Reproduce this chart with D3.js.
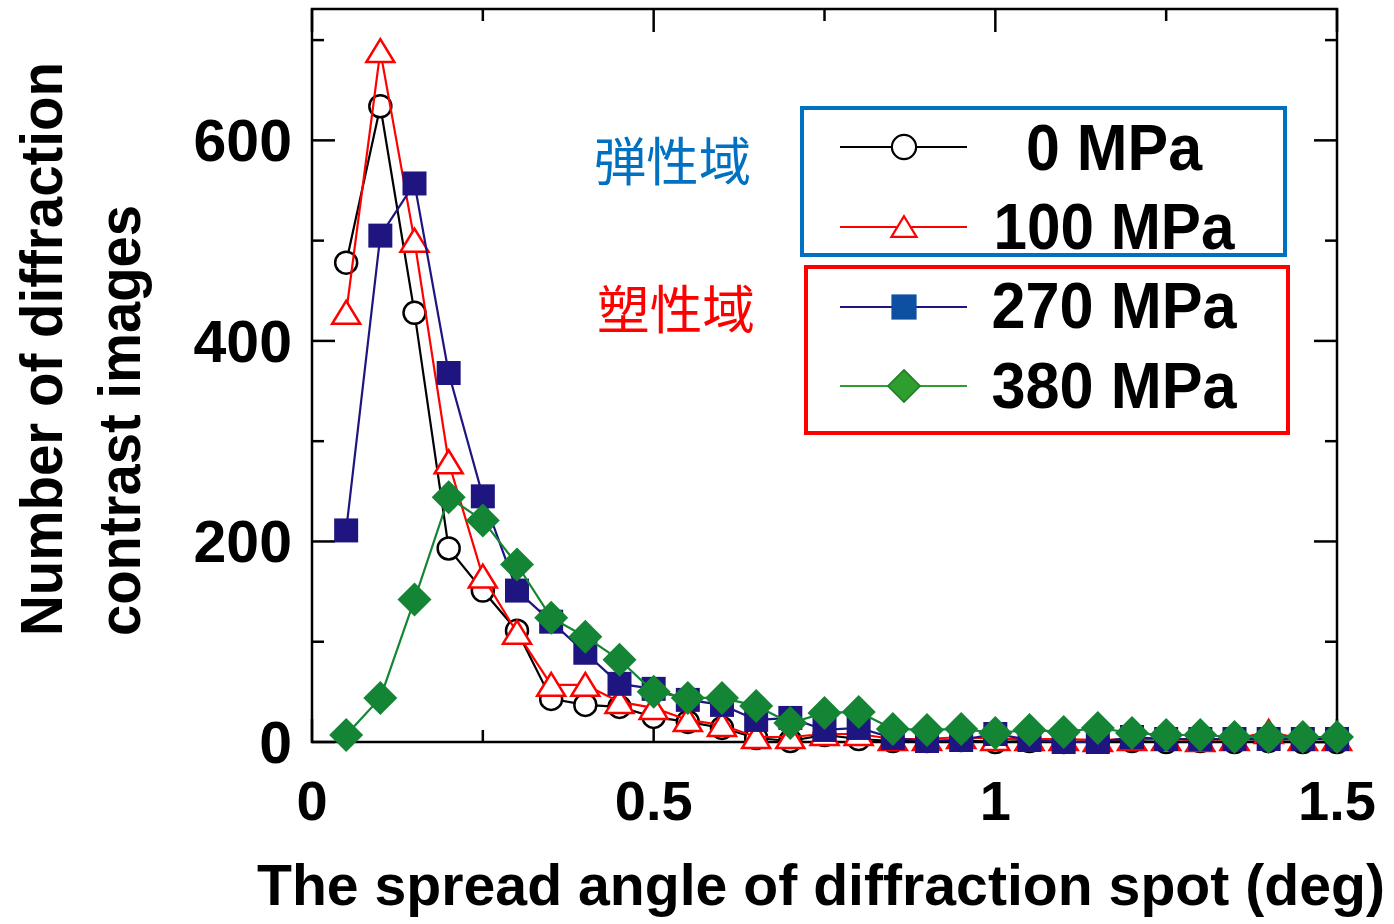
<!DOCTYPE html>
<html><head><meta charset="utf-8">
<script src="https://cdn.jsdelivr.net/npm/d3@7"></script>
<style>body{margin:0;background:#fff}svg{display:block}</style>
</head><body>
<script>
// ---- data ----
const angles = [0.05,0.10,0.15,0.20,0.25,0.30,0.35,0.40,0.45,0.50,0.55,0.60,0.65,0.70,0.75,0.80,0.85,0.90,0.95,1.00,1.05,1.10,1.15,1.20,1.25,1.30,1.35,1.40,1.45,1.50];
const mpa0   = [478,634,428,193,151,111,43,37,35,25,20,14,4,1,7,3,1,1,2,0,1,0,1,1,0,1,0,1,0,0];
const mpa100 = [428,689,500,279,165,109,57,57,40,34,22,17,5,5,8,8,3,3,5,3,3,3,2,3,3,2,3,10,3,3];
const mpa270 = [211,505,557,368,245,151,120,89,58,53,42,37,22,24,12,14,4,1,2,8,2,0,0,5,3,3,3,3,3,3];
const mpa380 = [7,44,142,244,221,177,124,105,82,50,44,44,36,19,29,30,13,12,13,9,12,10,14,9,7,7,5,5,5,5];
const seriesNames = ["0 MPa","100 MPa","270 MPa","380 MPa"];
const xTicks = [0,0.5,1,1.5];
const xTickLabels = ["0","0.5","1","1.5"];
const yTicks = [0,200,400,600];
const yTickLabels = ["0","200","400","600"];
const xTitle = "The spread angle of diffraction spot (deg)";
const yTitle1 = "Number of diffraction";
const yTitle2 = "contrast images";
const elasticLabel = "弾性域";
const plasticLabel = "塑性域";

// ---- layout ----
const W = 1394, H = 924;
const L = 312, R = 1337, T = 9, B = 742;
const FONT = "'Liberation Sans', Arial, sans-serif";

const svg = d3.select("body").append("svg").attr("width", W).attr("height", H);
const x = d3.scaleLinear().domain([0, 1.5]).range([L, R]);
const y = d3.scaleLinear().domain([0, 731]).range([B, T]);

// ticks (inward, all four sides)
const g = svg.append("g").attr("stroke", "#000").attr("stroke-width", 2.5);
const xMinor = d3.range(0, 1.5001, 0.25);
xMinor.forEach(v => {
  const major = Math.abs(v / 0.5 - Math.round(v / 0.5)) < 1e-6;
  const len = major ? 23 : 12;
  g.append("line").attr("x1", x(v)).attr("x2", x(v)).attr("y1", B).attr("y2", B - len);
  g.append("line").attr("x1", x(v)).attr("x2", x(v)).attr("y1", T).attr("y2", T + len);
});
const yMinor = d3.range(0, 701, 100);
yMinor.forEach(v => {
  const major = v % 200 === 0;
  const len = major ? 23 : 12;
  g.append("line").attr("x1", L).attr("x2", L + len).attr("y1", y(v)).attr("y2", y(v));
  g.append("line").attr("x1", R).attr("x2", R - len).attr("y1", y(v)).attr("y2", y(v));
});
svg.append("rect").attr("x", L).attr("y", T).attr("width", R - L).attr("height", B - T)
  .attr("fill", "none").attr("stroke", "#000").attr("stroke-width", 2.5);

// tick labels
svg.append("g").selectAll("text").data(xTicks).join("text")
  .attr("x", d => x(d)).attr("y", 820).attr("text-anchor", "middle")
  .attr("font-family", FONT).attr("font-weight", "bold").attr("font-size", 56)
  .text((d, i) => xTickLabels[i]);
svg.append("g").selectAll("text").data(yTicks).join("text")
  .attr("x", 292).attr("y", d => y(d) + 21).attr("text-anchor", "end")
  .attr("font-family", FONT).attr("font-weight", "bold").attr("font-size", 59)
  .text((d, i) => yTickLabels[i]);

// axis titles
svg.append("text").attr("x", 257).attr("y", 905)
  .attr("font-family", FONT).attr("font-weight", "bold").attr("font-size", 57)
  .attr("textLength", 1128).attr("lengthAdjust", "spacingAndGlyphs").text(xTitle);
svg.append("text").attr("transform", "translate(62,636) rotate(-90)")
  .attr("font-family", FONT).attr("font-weight", "bold").attr("font-size", 60)
  .attr("textLength", 574).attr("lengthAdjust", "spacingAndGlyphs").text(yTitle1);
svg.append("text").attr("transform", "translate(140,636) rotate(-90)")
  .attr("font-family", FONT).attr("font-weight", "bold").attr("font-size", 60)
  .attr("textLength", 431).attr("lengthAdjust", "spacingAndGlyphs").text(yTitle2);

// marker shapes
const shapes = {
  circle: "M11,0A11,11 0 1,1 -11,0A11,11 0 1,1 11,0Z",
  triangle: "M0,-12L14,11L-14,11Z",
  square: "M-12,-12H12V12H-12Z",
  diamond: "M0,-17L17,0L0,17L-17,0Z"
};
const styles = [
  {vals: mpa0,   line: "#000000", shape: "circle",   fill: "#fff",    stroke: "#000",    sw: 2.5},
  {vals: mpa100, line: "#ff0000", shape: "triangle", fill: "#fff",    stroke: "#ff0000", sw: 2.5},
  {vals: mpa270, line: "#1e1580", shape: "square",   fill: "#1e1580", stroke: "none",    sw: 0},
  {vals: mpa380, line: "#138535", shape: "diamond",  fill: "#138535", stroke: "none",    sw: 0}
];
const lineGen = d3.line().x(d => x(d[0])).y(d => y(d[1]));
styles.forEach(s => {
  const pts = angles.map((a, i) => [a, s.vals[i]]);
  const sg = svg.append("g");
  sg.append("path").attr("d", lineGen(pts)).attr("fill", "none")
    .attr("stroke", s.line).attr("stroke-width", 2.2);
  sg.selectAll("path.m").data(pts).join("path").attr("class", "m")
    .attr("d", shapes[s.shape])
    .attr("transform", d => `translate(${x(d[0])},${y(d[1])})`)
    .attr("fill", s.fill).attr("stroke", s.stroke).attr("stroke-width", s.sw);
});

// region labels
svg.append("text").attr("x", 594).attr("y", 181)
  .attr("font-family", "'Noto Sans CJK JP', sans-serif").attr("font-size", 52)
  .attr("fill", "#0070c0").attr("textLength", 157).attr("lengthAdjust", "spacingAndGlyphs").text(elasticLabel);
svg.append("text").attr("x", 597).attr("y", 329)
  .attr("font-family", "'Noto Sans CJK JP', sans-serif").attr("font-size", 52)
  .attr("fill", "#ff0000").attr("textLength", 158).attr("lengthAdjust", "spacingAndGlyphs").text(plasticLabel);

// legend boxes
svg.append("rect").attr("x", 802).attr("y", 108).attr("width", 483).attr("height", 147)
  .attr("fill", "none").attr("stroke", "#0070c0").attr("stroke-width", 4);
svg.append("rect").attr("x", 806).attr("y", 267).attr("width", 482).attr("height", 166)
  .attr("fill", "none").attr("stroke", "#ff0000").attr("stroke-width", 4);

const legendRows = [147, 227, 307, 386];
const legendBaselines = [170, 249, 328, 408];
const legendLens = [176, 241, 245, 245];
const legendStyles = [
  {line: "#000", shape: "circle", fill: "#fff", stroke: "#000", sw: 2.2, scale: 1.1},
  {line: "#ff0000", shape: "triangle", fill: "#fff", stroke: "#ff0000", sw: 2.2, scale: 0.9},
  {line: "#1e1580", shape: "square", fill: "#0d4fa0", stroke: "none", sw: 0, scale: 1.05},
  {line: "#2e9e2e", shape: "diamond", fill: "#2e9e2e", stroke: "#1f7a25", sw: 1.5, scale: 0.95}
];
legendStyles.forEach((s, i) => {
  const ly = legendRows[i];
  svg.append("line").attr("x1", 840).attr("x2", 967).attr("y1", ly).attr("y2", ly)
    .attr("stroke", s.line).attr("stroke-width", 1.8);
  svg.append("path").attr("d", shapes[s.shape])
    .attr("transform", `translate(904,${ly}) scale(${s.scale})`)
    .attr("fill", s.fill).attr("stroke", s.stroke).attr("stroke-width", s.sw / s.scale);
  svg.append("text").attr("x", 1114).attr("y", legendBaselines[i]).attr("text-anchor", "middle")
    .attr("font-family", FONT).attr("font-weight", "bold").attr("font-size", 64)
    .attr("textLength", legendLens[i]).attr("lengthAdjust", "spacingAndGlyphs")
    .text(seriesNames[i]);
});
</script>
</body></html>
